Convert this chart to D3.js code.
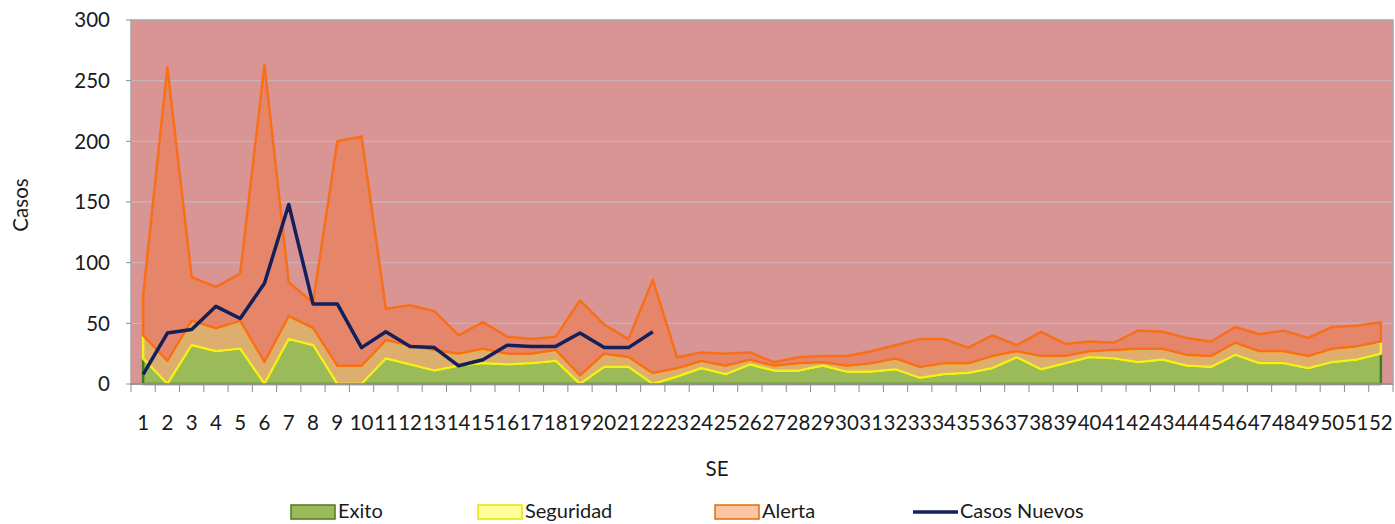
<!DOCTYPE html>
<html>
<head>
<meta charset="utf-8">
<script src="https://cdn.jsdelivr.net/npm/d3@7"></script>
<style>
  html, body { margin: 0; padding: 0; background: #fff; }
  svg { display: block; }
  text { font-family: Lato, "Open Sans", sans-serif; fill: #1a1a1a; }
</style>
</head>
<body>
<svg id="chart" width="1395" height="524"></svg>
<script>
// ---- data ----
const weeks = d3.range(1, 53);
const exito = [21,0,32,27,29,0,37,32,0,0,21,16,11,15,17,16,17,19,0,14,14,0,6,13,8,16,11,11,15,10,10,12,5,8,9,13,22,12,17,22,21,18,20,15,14,24,17,17,13,18,20,25];
const seguridad = [40,19,52,46,52,18,56,46,15,15,36,32,28,25,29,25,25,28,7,25,22,9,13,19,15,20,15,17,18,15,17,21,14,17,17,23,27,23,23,27,28,29,29,24,23,34,27,27,23,29,31,35];
const alerta = [73,261,88,80,91,263,84,67,200,204,62,65,60,40,51,39,37,39,69,49,37,86,22,26,25,26,18,22,23,23,27,32,37,37,30,40,32,43,33,35,34,44,43,38,35,47,41,44,38,47,48,51];
const casosNuevos = [8,42,45,64,54,83,148,66,66,30,43,31,30,15,20,32,31,31,42,30,30,43];
const yTicks = [0,50,100,150,200,250,300];
const legendLabels = ["Exito","Seguridad","Alerta","Casos Nuevos"];

// ---- layout ----
const svg = d3.select("#chart");
const L = 131, R = 1393, T = 20, B = 384;
const FS = 20.5;
const x = d3.scaleBand().domain(weeks).range([L, R]).padding(0);
const y = d3.scaleLinear().domain([0, 300]).range([B, T]);
const cx = d => x(d) + x.bandwidth() / 2;

// plot background (Epidemia zone)
svg.append("rect").attr("x", L).attr("y", T).attr("width", R - L).attr("height", B - T)
  .attr("fill", "#D99594");

// gridlines
svg.append("g").selectAll("line").data(yTicks.filter(v => v > 0 && v < 300)).join("line")
  .attr("x1", L).attr("x2", R).attr("y1", d => y(d)).attr("y2", d => y(d))
  .attr("stroke", "#C7B3B3").attr("stroke-width", 1.3);

// stacked bands
const rows = weeks.map((w, i) => ({ w, e: exito[i], s: seguridad[i], a: alerta[i] }));
const band = (lo, hi) => d3.area().x(d => cx(d.w)).y0(d => y(lo(d))).y1(d => y(hi(d)));

svg.append("path").datum(rows)
  .attr("d", band(d => 0, d => d.e))
  .attr("fill", "#9BBB59").attr("stroke", "#3E7E24").attr("stroke-width", 2.5)
  .attr("stroke-linejoin", "round");
svg.append("path").datum(rows)
  .attr("d", band(d => d.e, d => d.s))
  .attr("fill", "#DEAE6E").attr("stroke", "#F2F21A").attr("stroke-width", 2.5)
  .attr("stroke-linejoin", "round");
svg.append("path").datum(rows)
  .attr("d", band(d => d.s, d => d.a))
  .attr("fill", "#E5856A").attr("stroke", "#F86F18").attr("stroke-width", 2.5)
  .attr("stroke-linejoin", "round");

// casos nuevos line
svg.append("path").datum(casosNuevos)
  .attr("d", d3.line().x((d, i) => cx(weeks[i])).y(d => y(d)))
  .attr("fill", "none").attr("stroke", "#13205A").attr("stroke-width", 3.5)
  .attr("stroke-linejoin", "round");

// plot border
svg.append("rect").attr("x", L).attr("y", T).attr("width", R - L).attr("height", B - T)
  .attr("fill", "none").attr("stroke", "#A6A6A6").attr("stroke-width", 1.5);

// y axis
const yAxis = svg.append("g");
yAxis.selectAll("line").data(yTicks).join("line")
  .attr("x1", L - 5).attr("x2", L).attr("y1", d => y(d)).attr("y2", d => y(d))
  .attr("stroke", "#8C8C8C").attr("stroke-width", 1);
yAxis.selectAll("text").data(yTicks).join("text")
  .attr("x", 110).attr("y", d => y(d)).attr("dy", "0.36em")
  .attr("text-anchor", "end").attr("font-size", FS).text(d => d);

// x axis
const xAxis = svg.append("g");
xAxis.append("line").attr("x1", L).attr("x2", R).attr("y1", B).attr("y2", B)
  .attr("stroke", "#8C8C8C").attr("stroke-width", 1.5);
xAxis.selectAll("line.tk").data(weeks.concat([53])).join("line").attr("class", "tk")
  .attr("x1", (d, i) => L + i * x.bandwidth()).attr("x2", (d, i) => L + i * x.bandwidth())
  .attr("y1", B).attr("y2", B + 8)
  .attr("stroke", "#8C8C8C").attr("stroke-width", 1);
xAxis.selectAll("text").data(weeks).join("text")
  .attr("x", d => cx(d)).attr("y", 430)
  .attr("text-anchor", "middle").attr("font-size", FS).text(d => d);

// axis titles
svg.append("text").attr("x", 717).attr("y", 476).attr("text-anchor", "middle")
  .attr("font-size", FS).text("SE");
svg.append("text").attr("transform", "translate(28,205) rotate(-90)")
  .attr("text-anchor", "middle").attr("font-size", FS).text("Casos");

// legend
const lg = svg.append("g");
const items = [
  { label: legendLabels[0], x: 291, type: "rect", fill: "#9BBB59", stroke: "#4F7A28" },
  { label: legendLabels[1], x: 478, type: "rect", fill: "#FFFF99", stroke: "#E6E600" },
  { label: legendLabels[2], x: 715, type: "rect", fill: "#FBC6A4", stroke: "#E46C0A" },
  { label: legendLabels[3], x: 913, type: "line", stroke: "#13205A" }
];
items.forEach(it => {
  if (it.type === "rect") {
    lg.append("rect").attr("x", it.x).attr("y", 505).attr("width", 44).attr("height", 14)
      .attr("fill", it.fill).attr("stroke", it.stroke).attr("stroke-width", 1.5);
  } else {
    lg.append("line").attr("x1", it.x).attr("x2", it.x + 45).attr("y1", 512).attr("y2", 512)
      .attr("stroke", it.stroke).attr("stroke-width", 3.5);
  }
  lg.append("text").attr("x", it.x + 47).attr("y", 518).attr("font-size", 20).text(it.label);
});
</script>
</body>
</html>
